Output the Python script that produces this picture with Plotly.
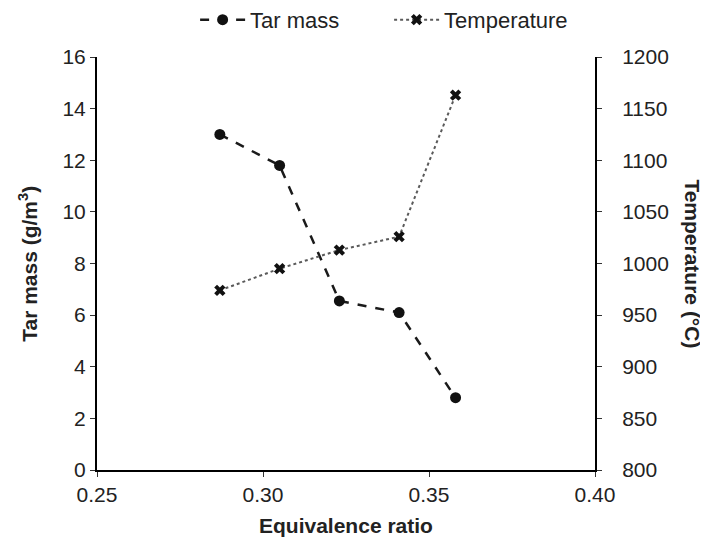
import plotly.graph_objects as go

equivalence_ratio = [0.287, 0.305, 0.323, 0.341, 0.358]
tar_mass = [13.0, 11.8, 6.55, 6.1, 2.8]
temperature = [974, 995, 1013, 1026, 1163]

FONT = "Liberation Sans, Arial, sans-serif"

fig = go.Figure()
fig.add_trace(go.Scatter(
    x=equivalence_ratio, y=tar_mass, name="Tar mass",
    mode="lines+markers",
    line=dict(color="#1a1a1a", width=2.5, dash="dash"),
    marker=dict(symbol="circle", size=11, color="#111111"),
))
fig.add_trace(go.Scatter(
    x=equivalence_ratio, y=temperature, name="Temperature", yaxis="y2",
    mode="lines+markers",
    line=dict(color="#5a5a5a", width=2, dash="dot"),
    marker=dict(symbol="x", size=10, color="#111111"),
))

axis_common = dict(
    showgrid=False, zeroline=False, showline=True, linecolor="black", linewidth=2,
    ticks="outside", ticklen=5, tickcolor="#333333", tickwidth=1, automargin=False,
    tickfont=dict(family=FONT, size=21, color="#222222"),
)

# page body has an 8px default margin, so the figure is 700x540
fig.update_layout(
    width=700, height=540,
    margin=dict(l=89, r=113, t=49, b=78, autoexpand=False),
    paper_bgcolor="white", plot_bgcolor="white",
    font=dict(family=FONT, color="#222222"),
    showlegend=True,
    legend=dict(orientation="h", x=0.197, xanchor="left", y=1.09, yanchor="middle",
                font=dict(family=FONT, size=22, color="#222222"),
                itemwidth=45, entrywidth=134, entrywidthmode="pixels",
                bgcolor="rgba(0,0,0,0)"),
    xaxis=dict(range=[0.25, 0.40], dtick=0.05, tick0=0.25, tickformat=".2f", **axis_common),
    yaxis=dict(range=[0, 16], dtick=2, **axis_common),
    yaxis2=dict(range=[800, 1200], dtick=50, overlaying="y", side="right",
                ticklabelstandoff=16, **axis_common),
    annotations=[
        dict(text="<b>Equivalence ratio</b>", x=0.5, y=-0.135, xref="paper", yref="paper",
             xanchor="center", yanchor="middle", showarrow=False,
             font=dict(family=FONT, size=21, color="#222222")),
        dict(text="<b>Tar mass (g/m<sup>3</sup>)</b>", x=-0.14, y=0.5, xref="paper", yref="paper",
             xanchor="center", yanchor="middle", showarrow=False, textangle=-90,
             font=dict(family=FONT, size=21, color="#222222")),
        dict(text="<b>Temperature (°C)</b>", x=1.195, y=0.5, xref="paper", yref="paper",
             xanchor="center", yanchor="middle", showarrow=False, textangle=90,
             font=dict(family=FONT, size=21, color="#222222")),
    ],
)

fig.write_html("out.html")
